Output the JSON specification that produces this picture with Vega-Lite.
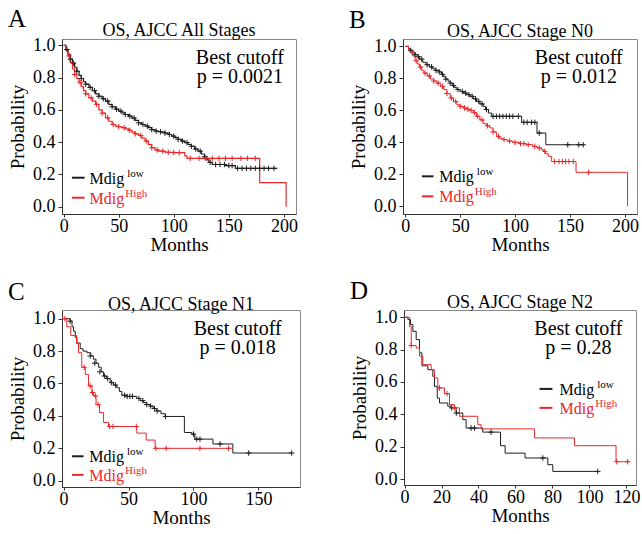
{
"$schema": "https://vega.github.io/schema/vega-lite/v6.json",
"padding": {"left": 8, "top": 6, "right": 2, "bottom": 2},
"config": {
  "font": "Liberation Serif",
  "view": {"stroke": "#8a8a8a", "strokeWidth": 1},
  "axis": {"grid": false, "labelFont": "Liberation Serif", "titleFont": "Liberation Serif", "labelFontSize": 18, "titleFontSize": 19, "titleFontWeight": "normal", "labelColor": "#000", "titleColor": "#000", "domainColor": "#333", "tickColor": "#333", "labelOverlap": false},
  "axisX": {"tickSize": 3, "labelPadding": 0, "titlePadding": 0, "labelFlush": false},
  "axisY": {"tickSize": 4, "labelPadding": 3, "titlePadding": 5, "format": ".1f", "values": [0, 0.2, 0.4, 0.6, 0.8, 1]},
  "title": {"font": "Liberation Serif", "fontSize": 18, "fontWeight": "normal", "color": "#000", "offset": -4}
},
"datasets": {
  "one": [{"k": 1}],
  "km": [
    {"p":"A","g":"low","t":0,"s":1.0},{"p":"A","g":"low","t":2,"s":0.975},{"p":"A","g":"low","t":4,"s":0.945},{"p":"A","g":"low","t":6,"s":0.915},{"p":"A","g":"low","t":8,"s":0.89},{"p":"A","g":"low","t":10,"s":0.865},{"p":"A","g":"low","t":12,"s":0.84},{"p":"A","g":"low","t":14,"s":0.815},{"p":"A","g":"low","t":16,"s":0.795},{"p":"A","g":"low","t":18,"s":0.775},{"p":"A","g":"low","t":20,"s":0.76},{"p":"A","g":"low","t":23,"s":0.74},{"p":"A","g":"low","t":26,"s":0.72},{"p":"A","g":"low","t":29,"s":0.70},{"p":"A","g":"low","t":32,"s":0.685},{"p":"A","g":"low","t":35,"s":0.67},{"p":"A","g":"low","t":38,"s":0.655},{"p":"A","g":"low","t":41,"s":0.635},{"p":"A","g":"low","t":44,"s":0.62},{"p":"A","g":"low","t":47,"s":0.605},{"p":"A","g":"low","t":50,"s":0.593},{"p":"A","g":"low","t":53,"s":0.582},{"p":"A","g":"low","t":56,"s":0.572},{"p":"A","g":"low","t":59,"s":0.562},{"p":"A","g":"low","t":62,"s":0.55},{"p":"A","g":"low","t":65,"s":0.535},{"p":"A","g":"low","t":68,"s":0.52},{"p":"A","g":"low","t":71,"s":0.51},{"p":"A","g":"low","t":74,"s":0.50},{"p":"A","g":"low","t":77,"s":0.49},{"p":"A","g":"low","t":80,"s":0.478},{"p":"A","g":"low","t":83,"s":0.469},{"p":"A","g":"low","t":86,"s":0.465},{"p":"A","g":"low","t":89,"s":0.463},{"p":"A","g":"low","t":92,"s":0.457},{"p":"A","g":"low","t":95,"s":0.448},{"p":"A","g":"low","t":98,"s":0.438},{"p":"A","g":"low","t":101,"s":0.428},{"p":"A","g":"low","t":104,"s":0.418},{"p":"A","g":"low","t":107,"s":0.407},{"p":"A","g":"low","t":110,"s":0.398},{"p":"A","g":"low","t":113,"s":0.386},{"p":"A","g":"low","t":116,"s":0.375},{"p":"A","g":"low","t":119,"s":0.358},{"p":"A","g":"low","t":122,"s":0.345},{"p":"A","g":"low","t":125,"s":0.327},{"p":"A","g":"low","t":128,"s":0.31},{"p":"A","g":"low","t":130,"s":0.29},{"p":"A","g":"low","t":132,"s":0.275},{"p":"A","g":"low","t":135,"s":0.262},{"p":"A","g":"low","t":147,"s":0.255},{"p":"A","g":"low","t":156,"s":0.238},{"p":"A","g":"low","t":194,"s":0.238},
    {"p":"A","g":"high","t":0,"s":1.0},{"p":"A","g":"high","t":2,"s":0.97},{"p":"A","g":"high","t":4,"s":0.935},{"p":"A","g":"high","t":6,"s":0.895},{"p":"A","g":"high","t":8,"s":0.855},{"p":"A","g":"high","t":10,"s":0.82},{"p":"A","g":"high","t":12,"s":0.795},{"p":"A","g":"high","t":14,"s":0.77},{"p":"A","g":"high","t":16,"s":0.745},{"p":"A","g":"high","t":18,"s":0.72},{"p":"A","g":"high","t":20,"s":0.70},{"p":"A","g":"high","t":23,"s":0.675},{"p":"A","g":"high","t":26,"s":0.655},{"p":"A","g":"high","t":29,"s":0.635},{"p":"A","g":"high","t":32,"s":0.60},{"p":"A","g":"high","t":35,"s":0.58},{"p":"A","g":"high","t":38,"s":0.552},{"p":"A","g":"high","t":41,"s":0.53},{"p":"A","g":"high","t":44,"s":0.51},{"p":"A","g":"high","t":47,"s":0.50},{"p":"A","g":"high","t":50,"s":0.496},{"p":"A","g":"high","t":53,"s":0.49},{"p":"A","g":"high","t":56,"s":0.483},{"p":"A","g":"high","t":59,"s":0.474},{"p":"A","g":"high","t":62,"s":0.463},{"p":"A","g":"high","t":65,"s":0.452},{"p":"A","g":"high","t":68,"s":0.442},{"p":"A","g":"high","t":71,"s":0.425},{"p":"A","g":"high","t":74,"s":0.407},{"p":"A","g":"high","t":77,"s":0.385},{"p":"A","g":"high","t":80,"s":0.366},{"p":"A","g":"high","t":83,"s":0.352},{"p":"A","g":"high","t":86,"s":0.345},{"p":"A","g":"high","t":92,"s":0.338},{"p":"A","g":"high","t":100,"s":0.335},{"p":"A","g":"high","t":110,"s":0.315},{"p":"A","g":"high","t":112,"s":0.30},{"p":"A","g":"high","t":178,"s":0.149},{"p":"A","g":"high","t":202,"s":0.0},
    {"p":"B","g":"low","t":0,"s":1.0},{"p":"B","g":"low","t":3,"s":0.985},{"p":"B","g":"low","t":5,"s":0.975},{"p":"B","g":"low","t":7,"s":0.96},{"p":"B","g":"low","t":9,"s":0.948},{"p":"B","g":"low","t":11,"s":0.935},{"p":"B","g":"low","t":13,"s":0.92},{"p":"B","g":"low","t":16,"s":0.90},{"p":"B","g":"low","t":19,"s":0.885},{"p":"B","g":"low","t":22,"s":0.872},{"p":"B","g":"low","t":25,"s":0.86},{"p":"B","g":"low","t":28,"s":0.85},{"p":"B","g":"low","t":31,"s":0.84},{"p":"B","g":"low","t":33,"s":0.825},{"p":"B","g":"low","t":35,"s":0.81},{"p":"B","g":"low","t":37,"s":0.795},{"p":"B","g":"low","t":39,"s":0.782},{"p":"B","g":"low","t":41,"s":0.77},{"p":"B","g":"low","t":43,"s":0.755},{"p":"B","g":"low","t":45,"s":0.742},{"p":"B","g":"low","t":47,"s":0.73},{"p":"B","g":"low","t":50,"s":0.718},{"p":"B","g":"low","t":53,"s":0.708},{"p":"B","g":"low","t":56,"s":0.698},{"p":"B","g":"low","t":59,"s":0.688},{"p":"B","g":"low","t":62,"s":0.672},{"p":"B","g":"low","t":65,"s":0.656},{"p":"B","g":"low","t":68,"s":0.64},{"p":"B","g":"low","t":71,"s":0.625},{"p":"B","g":"low","t":73,"s":0.605},{"p":"B","g":"low","t":75.8,"s":0.583},{"p":"B","g":"low","t":78.8,"s":0.5625},{"p":"B","g":"low","t":106,"s":0.525},{"p":"B","g":"low","t":120,"s":0.458},{"p":"B","g":"low","t":128,"s":0.385},{"p":"B","g":"low","t":162,"s":0.385},
    {"p":"B","g":"high","t":0,"s":1.0},{"p":"B","g":"high","t":3,"s":0.98},{"p":"B","g":"high","t":5,"s":0.965},{"p":"B","g":"high","t":7,"s":0.94},{"p":"B","g":"high","t":9,"s":0.91},{"p":"B","g":"high","t":11,"s":0.89},{"p":"B","g":"high","t":13,"s":0.87},{"p":"B","g":"high","t":15,"s":0.85},{"p":"B","g":"high","t":17,"s":0.833},{"p":"B","g":"high","t":20,"s":0.815},{"p":"B","g":"high","t":23,"s":0.796},{"p":"B","g":"high","t":26,"s":0.783},{"p":"B","g":"high","t":29,"s":0.77},{"p":"B","g":"high","t":32,"s":0.75},{"p":"B","g":"high","t":35,"s":0.73},{"p":"B","g":"high","t":38,"s":0.705},{"p":"B","g":"high","t":41,"s":0.677},{"p":"B","g":"high","t":44,"s":0.655},{"p":"B","g":"high","t":47,"s":0.635},{"p":"B","g":"high","t":50,"s":0.625},{"p":"B","g":"high","t":53,"s":0.615},{"p":"B","g":"high","t":56,"s":0.607},{"p":"B","g":"high","t":59,"s":0.60},{"p":"B","g":"high","t":62,"s":0.585},{"p":"B","g":"high","t":65,"s":0.5625},{"p":"B","g":"high","t":68,"s":0.54},{"p":"B","g":"high","t":71,"s":0.517},{"p":"B","g":"high","t":74,"s":0.503},{"p":"B","g":"high","t":77,"s":0.49},{"p":"B","g":"high","t":80,"s":0.465},{"p":"B","g":"high","t":83,"s":0.4375},{"p":"B","g":"high","t":86,"s":0.425},{"p":"B","g":"high","t":89,"s":0.417},{"p":"B","g":"high","t":93,"s":0.408},{"p":"B","g":"high","t":98,"s":0.40},{"p":"B","g":"high","t":104,"s":0.392},{"p":"B","g":"high","t":110,"s":0.385},{"p":"B","g":"high","t":116,"s":0.375},{"p":"B","g":"high","t":120,"s":0.365},{"p":"B","g":"high","t":124,"s":0.354},{"p":"B","g":"high","t":126,"s":0.344},{"p":"B","g":"high","t":128,"s":0.328},{"p":"B","g":"high","t":130.3,"s":0.3125},{"p":"B","g":"high","t":133.3,"s":0.28},{"p":"B","g":"high","t":155.5,"s":0.2125},{"p":"B","g":"high","t":202.4,"s":0.0},
    {"p":"C","g":"low","t":0,"s":1.0},{"p":"C","g":"low","t":5.1,"s":0.985},{"p":"C","g":"low","t":6.5,"s":0.95},{"p":"C","g":"low","t":7.7,"s":0.923},{"p":"C","g":"low","t":9,"s":0.885},{"p":"C","g":"low","t":10.3,"s":0.85},{"p":"C","g":"low","t":12.8,"s":0.815},{"p":"C","g":"low","t":15,"s":0.80},{"p":"C","g":"low","t":18,"s":0.79},{"p":"C","g":"low","t":21,"s":0.77},{"p":"C","g":"low","t":23,"s":0.75},{"p":"C","g":"low","t":25,"s":0.725},{"p":"C","g":"low","t":27,"s":0.70},{"p":"C","g":"low","t":29,"s":0.672},{"p":"C","g":"low","t":30.8,"s":0.646},{"p":"C","g":"low","t":33,"s":0.63},{"p":"C","g":"low","t":35.9,"s":0.605},{"p":"C","g":"low","t":38.5,"s":0.59},{"p":"C","g":"low","t":41,"s":0.574},{"p":"C","g":"low","t":43,"s":0.55},{"p":"C","g":"low","t":44.9,"s":0.527},{"p":"C","g":"low","t":48.7,"s":0.52},{"p":"C","g":"low","t":56.4,"s":0.507},{"p":"C","g":"low","t":59,"s":0.494},{"p":"C","g":"low","t":61.5,"s":0.482},{"p":"C","g":"low","t":64,"s":0.47},{"p":"C","g":"low","t":66.7,"s":0.46},{"p":"C","g":"low","t":69,"s":0.445},{"p":"C","g":"low","t":71.8,"s":0.43},{"p":"C","g":"low","t":75,"s":0.413},{"p":"C","g":"low","t":78.2,"s":0.396},{"p":"C","g":"low","t":93,"s":0.297},{"p":"C","g":"low","t":98.7,"s":0.287},{"p":"C","g":"low","t":101,"s":0.256},{"p":"C","g":"low","t":115,"s":0.226},{"p":"C","g":"low","t":130.3,"s":0.17},{"p":"C","g":"low","t":175.6,"s":0.17},
    {"p":"C","g":"high","t":0,"s":1.0},{"p":"C","g":"high","t":2.5,"s":0.95},{"p":"C","g":"high","t":5.5,"s":0.897},{"p":"C","g":"high","t":10,"s":0.846},{"p":"C","g":"high","t":11.5,"s":0.79},{"p":"C","g":"high","t":14,"s":0.70},{"p":"C","g":"high","t":16.7,"s":0.656},{"p":"C","g":"high","t":19.2,"s":0.585},{"p":"C","g":"high","t":21.8,"s":0.544},{"p":"C","g":"high","t":23,"s":0.523},{"p":"C","g":"high","t":25,"s":0.47},{"p":"C","g":"high","t":27.7,"s":0.42},{"p":"C","g":"high","t":30.8,"s":0.359},{"p":"C","g":"high","t":34.6,"s":0.334},{"p":"C","g":"high","t":56.4,"s":0.293},{"p":"C","g":"high","t":63.6,"s":0.25},{"p":"C","g":"high","t":70.5,"s":0.199},{"p":"C","g":"high","t":129.5,"s":0.199},
    {"p":"D","g":"low","t":0,"s":1.0},{"p":"D","g":"low","t":1.8,"s":0.986},{"p":"D","g":"low","t":3.2,"s":0.955},{"p":"D","g":"low","t":4.5,"s":0.913},{"p":"D","g":"low","t":6.3,"s":0.862},{"p":"D","g":"low","t":8.1,"s":0.78},{"p":"D","g":"low","t":9.4,"s":0.70},{"p":"D","g":"low","t":12.6,"s":0.676},{"p":"D","g":"low","t":15.3,"s":0.635},{"p":"D","g":"low","t":16.2,"s":0.573},{"p":"D","g":"low","t":17.7,"s":0.50},{"p":"D","g":"low","t":18.9,"s":0.47},{"p":"D","g":"low","t":23.4,"s":0.45},{"p":"D","g":"low","t":25.2,"s":0.44},{"p":"D","g":"low","t":27.9,"s":0.408},{"p":"D","g":"low","t":31.5,"s":0.367},{"p":"D","g":"low","t":33.3,"s":0.315},{"p":"D","g":"low","t":42.3,"s":0.29},{"p":"D","g":"low","t":51.9,"s":0.206},{"p":"D","g":"low","t":54.4,"s":0.16},{"p":"D","g":"low","t":65.2,"s":0.13},{"p":"D","g":"low","t":77.5,"s":0.0887},{"p":"D","g":"low","t":80.2,"s":0.047},{"p":"D","g":"low","t":104.5,"s":0.047},
    {"p":"D","g":"high","t":0,"s":1.0},{"p":"D","g":"high","t":2.7,"s":0.944},{"p":"D","g":"high","t":3.6,"s":0.825},{"p":"D","g":"high","t":6.3,"s":0.81},{"p":"D","g":"high","t":8.1,"s":0.76},{"p":"D","g":"high","t":9.9,"s":0.707},{"p":"D","g":"high","t":14.4,"s":0.676},{"p":"D","g":"high","t":16.2,"s":0.625},{"p":"D","g":"high","t":18,"s":0.563},{"p":"D","g":"high","t":21.6,"s":0.528},{"p":"D","g":"high","t":24.3,"s":0.46},{"p":"D","g":"high","t":27,"s":0.44},{"p":"D","g":"high","t":29.7,"s":0.388},{"p":"D","g":"high","t":39.6,"s":0.336},{"p":"D","g":"high","t":41.4,"s":0.31},{"p":"D","g":"high","t":70.3,"s":0.254},{"p":"D","g":"high","t":91.9,"s":0.206},{"p":"D","g":"high","t":114.4,"s":0.107},{"p":"D","g":"high","t":121.6,"s":0.107}
  ],
  "cens": [
    {"p":"A","g":"low","t":3,"s":0.975},{"p":"A","g":"low","t":6,"s":0.915},{"p":"A","g":"low","t":9,"s":0.89},{"p":"A","g":"low","t":12,"s":0.84},{"p":"A","g":"low","t":16,"s":0.795},{"p":"A","g":"low","t":20,"s":0.76},{"p":"A","g":"low","t":24,"s":0.74},{"p":"A","g":"low","t":28,"s":0.72},{"p":"A","g":"low","t":32,"s":0.685},{"p":"A","g":"low","t":36,"s":0.67},{"p":"A","g":"low","t":40,"s":0.655},{"p":"A","g":"low","t":44,"s":0.62},{"p":"A","g":"low","t":48,"s":0.605},{"p":"A","g":"low","t":52,"s":0.593},{"p":"A","g":"low","t":56,"s":0.572},{"p":"A","g":"low","t":60,"s":0.562},{"p":"A","g":"low","t":64,"s":0.55},{"p":"A","g":"low","t":68,"s":0.52},{"p":"A","g":"low","t":72,"s":0.51},{"p":"A","g":"low","t":76,"s":0.50},{"p":"A","g":"low","t":80,"s":0.478},{"p":"A","g":"low","t":84,"s":0.469},{"p":"A","g":"low","t":88,"s":0.465},{"p":"A","g":"low","t":92,"s":0.457},{"p":"A","g":"low","t":96,"s":0.448},{"p":"A","g":"low","t":100,"s":0.438},{"p":"A","g":"low","t":104,"s":0.418},{"p":"A","g":"low","t":108,"s":0.407},{"p":"A","g":"low","t":112,"s":0.398},{"p":"A","g":"low","t":116,"s":0.375},{"p":"A","g":"low","t":120,"s":0.358},{"p":"A","g":"low","t":124,"s":0.345},{"p":"A","g":"low","t":128,"s":0.31},{"p":"A","g":"low","t":133,"s":0.275},{"p":"A","g":"low","t":138,"s":0.262},{"p":"A","g":"low","t":142,"s":0.262},{"p":"A","g":"low","t":146,"s":0.262},{"p":"A","g":"low","t":150,"s":0.255},{"p":"A","g":"low","t":153,"s":0.255},{"p":"A","g":"low","t":158,"s":0.238},{"p":"A","g":"low","t":162,"s":0.238},{"p":"A","g":"low","t":166,"s":0.238},{"p":"A","g":"low","t":170,"s":0.238},{"p":"A","g":"low","t":174,"s":0.238},{"p":"A","g":"low","t":178,"s":0.238},{"p":"A","g":"low","t":182,"s":0.238},{"p":"A","g":"low","t":186,"s":0.238},{"p":"A","g":"low","t":191,"s":0.238},
    {"p":"A","g":"high","t":5,"s":0.935},{"p":"A","g":"high","t":10,"s":0.82},{"p":"A","g":"high","t":15,"s":0.77},{"p":"A","g":"high","t":20,"s":0.70},{"p":"A","g":"high","t":25,"s":0.675},{"p":"A","g":"high","t":30,"s":0.635},{"p":"A","g":"high","t":35,"s":0.58},{"p":"A","g":"high","t":40,"s":0.552},{"p":"A","g":"high","t":45,"s":0.51},{"p":"A","g":"high","t":50,"s":0.496},{"p":"A","g":"high","t":55,"s":0.49},{"p":"A","g":"high","t":60,"s":0.474},{"p":"A","g":"high","t":65,"s":0.452},{"p":"A","g":"high","t":70,"s":0.442},{"p":"A","g":"high","t":75,"s":0.407},{"p":"A","g":"high","t":80,"s":0.366},{"p":"A","g":"high","t":85,"s":0.352},{"p":"A","g":"high","t":90,"s":0.345},{"p":"A","g":"high","t":95,"s":0.338},{"p":"A","g":"high","t":100,"s":0.335},{"p":"A","g":"high","t":105,"s":0.335},{"p":"A","g":"high","t":115,"s":0.30},{"p":"A","g":"high","t":123,"s":0.30},{"p":"A","g":"high","t":129,"s":0.30},{"p":"A","g":"high","t":135,"s":0.30},{"p":"A","g":"high","t":141,"s":0.30},{"p":"A","g":"high","t":147,"s":0.30},{"p":"A","g":"high","t":153,"s":0.30},{"p":"A","g":"high","t":161,"s":0.30},{"p":"A","g":"high","t":167,"s":0.30},{"p":"A","g":"high","t":174,"s":0.30},
    {"p":"B","g":"low","t":5,"s":0.975},{"p":"B","g":"low","t":9,"s":0.948},{"p":"B","g":"low","t":12,"s":0.935},{"p":"B","g":"low","t":15,"s":0.92},{"p":"B","g":"low","t":20,"s":0.885},{"p":"B","g":"low","t":24,"s":0.872},{"p":"B","g":"low","t":28,"s":0.85},{"p":"B","g":"low","t":31,"s":0.84},{"p":"B","g":"low","t":34,"s":0.825},{"p":"B","g":"low","t":37,"s":0.795},{"p":"B","g":"low","t":41,"s":0.77},{"p":"B","g":"low","t":44,"s":0.755},{"p":"B","g":"low","t":48,"s":0.73},{"p":"B","g":"low","t":52,"s":0.718},{"p":"B","g":"low","t":55,"s":0.708},{"p":"B","g":"low","t":58,"s":0.698},{"p":"B","g":"low","t":61,"s":0.688},{"p":"B","g":"low","t":64,"s":0.672},{"p":"B","g":"low","t":67,"s":0.656},{"p":"B","g":"low","t":70,"s":0.64},{"p":"B","g":"low","t":74,"s":0.605},{"p":"B","g":"low","t":80,"s":0.5625},{"p":"B","g":"low","t":83,"s":0.5625},{"p":"B","g":"low","t":86,"s":0.5625},{"p":"B","g":"low","t":89,"s":0.5625},{"p":"B","g":"low","t":92,"s":0.5625},{"p":"B","g":"low","t":95,"s":0.5625},{"p":"B","g":"low","t":98,"s":0.5625},{"p":"B","g":"low","t":103,"s":0.5625},{"p":"B","g":"low","t":108,"s":0.525},{"p":"B","g":"low","t":111,"s":0.525},{"p":"B","g":"low","t":115,"s":0.525},{"p":"B","g":"low","t":118,"s":0.525},{"p":"B","g":"low","t":122,"s":0.458},{"p":"B","g":"low","t":148,"s":0.385},{"p":"B","g":"low","t":158,"s":0.385},{"p":"B","g":"low","t":162,"s":0.385},
    {"p":"B","g":"high","t":6,"s":0.965},{"p":"B","g":"high","t":10,"s":0.91},{"p":"B","g":"high","t":14,"s":0.87},{"p":"B","g":"high","t":18,"s":0.833},{"p":"B","g":"high","t":22,"s":0.815},{"p":"B","g":"high","t":26,"s":0.783},{"p":"B","g":"high","t":30,"s":0.77},{"p":"B","g":"high","t":34,"s":0.75},{"p":"B","g":"high","t":38,"s":0.705},{"p":"B","g":"high","t":42,"s":0.677},{"p":"B","g":"high","t":46,"s":0.655},{"p":"B","g":"high","t":50,"s":0.625},{"p":"B","g":"high","t":54,"s":0.615},{"p":"B","g":"high","t":57,"s":0.607},{"p":"B","g":"high","t":60,"s":0.60},{"p":"B","g":"high","t":63,"s":0.585},{"p":"B","g":"high","t":66,"s":0.5625},{"p":"B","g":"high","t":70,"s":0.54},{"p":"B","g":"high","t":75,"s":0.503},{"p":"B","g":"high","t":80,"s":0.465},{"p":"B","g":"high","t":85,"s":0.4375},{"p":"B","g":"high","t":90,"s":0.417},{"p":"B","g":"high","t":95,"s":0.408},{"p":"B","g":"high","t":100,"s":0.40},{"p":"B","g":"high","t":105,"s":0.392},{"p":"B","g":"high","t":108,"s":0.392},{"p":"B","g":"high","t":112,"s":0.385},{"p":"B","g":"high","t":118,"s":0.375},{"p":"B","g":"high","t":122,"s":0.365},{"p":"B","g":"high","t":127,"s":0.344},{"p":"B","g":"high","t":136,"s":0.28},{"p":"B","g":"high","t":140,"s":0.28},{"p":"B","g":"high","t":143,"s":0.28},{"p":"B","g":"high","t":146,"s":0.28},{"p":"B","g":"high","t":149,"s":0.28},{"p":"B","g":"high","t":153,"s":0.28},{"p":"B","g":"high","t":167,"s":0.2125},
    {"p":"C","g":"low","t":5.1,"s":0.985},{"p":"C","g":"low","t":20.5,"s":0.77},{"p":"C","g":"low","t":24,"s":0.725},{"p":"C","g":"low","t":28,"s":0.672},{"p":"C","g":"low","t":31.5,"s":0.646},{"p":"C","g":"low","t":34,"s":0.63},{"p":"C","g":"low","t":37,"s":0.605},{"p":"C","g":"low","t":40,"s":0.59},{"p":"C","g":"low","t":47,"s":0.527},{"p":"C","g":"low","t":49,"s":0.52},{"p":"C","g":"low","t":51,"s":0.52},{"p":"C","g":"low","t":53,"s":0.52},{"p":"C","g":"low","t":58,"s":0.507},{"p":"C","g":"low","t":61,"s":0.494},{"p":"C","g":"low","t":64,"s":0.47},{"p":"C","g":"low","t":67,"s":0.46},{"p":"C","g":"low","t":70,"s":0.445},{"p":"C","g":"low","t":72,"s":0.43},{"p":"C","g":"low","t":78.5,"s":0.396},{"p":"C","g":"low","t":100,"s":0.287},{"p":"C","g":"low","t":102.5,"s":0.256},{"p":"C","g":"low","t":105,"s":0.256},{"p":"C","g":"low","t":120.5,"s":0.226},{"p":"C","g":"low","t":142.5,"s":0.17},{"p":"C","g":"low","t":175.6,"s":0.17},
    {"p":"C","g":"high","t":1,"s":1.0},{"p":"C","g":"high","t":15.9,"s":0.70},{"p":"C","g":"high","t":20.5,"s":0.585},{"p":"C","g":"high","t":22.3,"s":0.544},{"p":"C","g":"high","t":24.5,"s":0.523},{"p":"C","g":"high","t":26.5,"s":0.47},{"p":"C","g":"high","t":35.5,"s":0.334},{"p":"C","g":"high","t":38,"s":0.334},{"p":"C","g":"high","t":56,"s":0.334},{"p":"C","g":"high","t":71,"s":0.199},{"p":"C","g":"high","t":79,"s":0.199},{"p":"C","g":"high","t":105,"s":0.199},{"p":"C","g":"high","t":127,"s":0.199},
    {"p":"D","g":"low","t":25.5,"s":0.44},{"p":"D","g":"low","t":28,"s":0.408},{"p":"D","g":"low","t":36,"s":0.315},{"p":"D","g":"low","t":37.8,"s":0.315},{"p":"D","g":"low","t":46.8,"s":0.29},{"p":"D","g":"low","t":74.8,"s":0.13},{"p":"D","g":"low","t":104.5,"s":0.047},
    {"p":"D","g":"high","t":3.6,"s":0.825},{"p":"D","g":"high","t":18.9,"s":0.563},{"p":"D","g":"high","t":23,"s":0.528},{"p":"D","g":"high","t":27,"s":0.44},{"p":"D","g":"high","t":114.8,"s":0.107},{"p":"D","g":"high","t":120.7,"s":0.107}
  ]
},
"spacing": 23,
"vconcat": [
 {"hconcat": [
  {"title": {"text": "A", "anchor": "start", "frame": "bounds", "fontSize": 25, "offset": -10},
   "vconcat": [{
    "width": 234, "height": 175,
    "title": {"text": "OS, AJCC All Stages"},
    "layer": [
     {"encoding": {
       "x": {"field": "t", "type": "quantitative", "scale": {"domain": [-1.5, 211], "nice": false, "zero": false}, "axis": {"title": "Months", "values": [0, 50, 100, 150, 200]}},
       "y": {"field": "s", "type": "quantitative", "scale": {"domain": [-0.045, 1.04], "nice": false, "zero": false}, "axis": {"title": "Probability"}},
       "color": {"field": "g", "type": "nominal", "scale": {"domain": ["low", "high"], "range": ["#1e1e1e", "#e8282a"]}, "legend": null}
      },
      "layer": [
       {"data": {"name": "km"}, "transform": [{"filter": "datum.p === 'A'"}], "mark": {"type": "line", "interpolate": "step-after", "strokeWidth": 1.2}},
       {"data": {"name": "cens"}, "transform": [{"filter": "datum.p === 'A'"}], "mark": {"type": "point", "shape": "M0,-1V1M-1,0H1", "size": 30, "strokeWidth": 1, "filled": false, "opacity": 1}}
      ]},
     {"data": {"name": "one"},
      "layer": [
       {"mark": {"type": "rule", "color": "#1e1e1e", "strokeWidth": 2}, "encoding": {"x": {"datum": 7.5}, "x2": {"datum": 19}, "y": {"datum": 0.18}}},
       {"mark": {"type": "rule", "color": "#e8282a", "strokeWidth": 2}, "encoding": {"x": {"datum": 7.5}, "x2": {"datum": 19}, "y": {"datum": 0.056}}},
       {"mark": {"type": "text", "text": "Mdig", "align": "right", "baseline": "middle", "fontSize": 16, "dy": 1, "color": "#000"}, "encoding": {"x": {"datum": 55}, "y": {"datum": 0.18}}},
       {"mark": {"type": "text", "text": "low", "align": "left", "baseline": "middle", "fontSize": 11, "dx": 3, "dy": -4, "color": "#000"}, "encoding": {"x": {"datum": 55}, "y": {"datum": 0.18}}},
       {"mark": {"type": "text", "text": "Mdig", "align": "right", "baseline": "middle", "fontSize": 16, "dy": 1, "color": "#e8282a"}, "encoding": {"x": {"datum": 55}, "y": {"datum": 0.056}}},
       {"mark": {"type": "text", "text": "High", "align": "left", "baseline": "middle", "fontSize": 11, "dx": 1, "dy": -4, "color": "#e8282a"}, "encoding": {"x": {"datum": 55}, "y": {"datum": 0.056}}},
       {"mark": {"type": "text", "text": ["Best cutoff", "p = 0.0021"], "align": "center", "baseline": "alphabetic", "fontSize": 20, "lineHeight": 19, "color": "#000"}, "encoding": {"x": {"datum": 160}, "y": {"datum": 0.888}}}
      ]}
    ]
   }]
  },
  {"title": {"text": "B", "anchor": "start", "frame": "bounds", "fontSize": 25, "offset": -10},
   "vconcat": [{
    "width": 234, "height": 175,
    "title": {"text": "OS, AJCC Stage N0"},
    "layer": [
     {"encoding": {
       "x": {"field": "t", "type": "quantitative", "scale": {"domain": [-2, 211], "nice": false, "zero": false}, "axis": {"title": "Months", "values": [0, 50, 100, 150, 200]}},
       "y": {"field": "s", "type": "quantitative", "scale": {"domain": [-0.048, 1.046], "nice": false, "zero": false}, "axis": {"title": "Probability"}},
       "color": {"field": "g", "type": "nominal", "scale": {"domain": ["low", "high"], "range": ["#1e1e1e", "#e8282a"]}, "legend": null}
      },
      "layer": [
       {"data": {"name": "km"}, "transform": [{"filter": "datum.p === 'B'"}], "mark": {"type": "line", "interpolate": "step-after", "strokeWidth": 1}},
       {"data": {"name": "cens"}, "transform": [{"filter": "datum.p === 'B'"}], "mark": {"type": "point", "shape": "M0,-1V1M-1,0H1", "size": 30, "strokeWidth": 1, "filled": false, "opacity": 1}}
      ]},
     {"data": {"name": "one"},
      "layer": [
       {"mark": {"type": "rule", "color": "#1e1e1e", "strokeWidth": 2}, "encoding": {"x": {"datum": 15.2}, "x2": {"datum": 25.7}, "y": {"datum": 0.1875}}},
       {"mark": {"type": "rule", "color": "#e8282a", "strokeWidth": 2}, "encoding": {"x": {"datum": 15.2}, "x2": {"datum": 25.7}, "y": {"datum": 0.0625}}},
       {"mark": {"type": "text", "text": "Mdig", "align": "right", "baseline": "middle", "fontSize": 16, "dy": 1, "color": "#000"}, "encoding": {"x": {"datum": 62.5}, "y": {"datum": 0.1875}}},
       {"mark": {"type": "text", "text": "low", "align": "left", "baseline": "middle", "fontSize": 11, "dx": 3, "dy": -4, "color": "#000"}, "encoding": {"x": {"datum": 62.5}, "y": {"datum": 0.1875}}},
       {"mark": {"type": "text", "text": "Mdig", "align": "right", "baseline": "middle", "fontSize": 16, "dy": 1, "color": "#e8282a"}, "encoding": {"x": {"datum": 62.5}, "y": {"datum": 0.0625}}},
       {"mark": {"type": "text", "text": "High", "align": "left", "baseline": "middle", "fontSize": 11, "dx": 1, "dy": -4, "color": "#e8282a"}, "encoding": {"x": {"datum": 62.5}, "y": {"datum": 0.0625}}},
       {"mark": {"type": "text", "text": ["Best cutoff", "p = 0.012"], "align": "center", "baseline": "alphabetic", "fontSize": 20, "lineHeight": 19, "color": "#000"}, "encoding": {"x": {"datum": 158}, "y": {"datum": 0.892}}}
      ]}
    ]
   }]
  }
 ], "spacing": 51},
 {"hconcat": [
  {"title": {"text": "C", "anchor": "start", "frame": "bounds", "fontSize": 25, "offset": -10},
   "vconcat": [{
    "width": 238, "height": 177,
    "title": {"text": "OS, AJCC Stage N1"},
    "layer": [
     {"encoding": {
       "x": {"field": "t", "type": "quantitative", "scale": {"domain": [-1.2, 182], "nice": false, "zero": false}, "axis": {"title": "Months", "values": [0, 50, 100, 150]}},
       "y": {"field": "s", "type": "quantitative", "scale": {"domain": [-0.04, 1.054], "nice": false, "zero": false}, "axis": {"title": "Probability"}},
       "color": {"field": "g", "type": "nominal", "scale": {"domain": ["low", "high"], "range": ["#1e1e1e", "#e8282a"]}, "legend": null}
      },
      "layer": [
       {"data": {"name": "km"}, "transform": [{"filter": "datum.p === 'C'"}], "mark": {"type": "line", "interpolate": "step-after", "strokeWidth": 1}},
       {"data": {"name": "cens"}, "transform": [{"filter": "datum.p === 'C'"}], "mark": {"type": "point", "shape": "M0,-1V1M-1,0H1", "size": 30, "strokeWidth": 1, "filled": false, "opacity": 1}}
      ]},
     {"data": {"name": "one"},
      "layer": [
       {"mark": {"type": "rule", "color": "#1e1e1e", "strokeWidth": 2}, "encoding": {"x": {"datum": 6.5}, "x2": {"datum": 15.4}, "y": {"datum": 0.15}}},
       {"mark": {"type": "rule", "color": "#e8282a", "strokeWidth": 2}, "encoding": {"x": {"datum": 6.5}, "x2": {"datum": 15.4}, "y": {"datum": 0.035}}},
       {"mark": {"type": "text", "text": "Mdig", "align": "right", "baseline": "middle", "fontSize": 16, "dy": 1, "color": "#000"}, "encoding": {"x": {"datum": 46.5}, "y": {"datum": 0.15}}},
       {"mark": {"type": "text", "text": "low", "align": "left", "baseline": "middle", "fontSize": 11, "dx": 3, "dy": -4, "color": "#000"}, "encoding": {"x": {"datum": 46.5}, "y": {"datum": 0.15}}},
       {"mark": {"type": "text", "text": "Mdig", "align": "right", "baseline": "middle", "fontSize": 16, "dy": 1, "color": "#e8282a"}, "encoding": {"x": {"datum": 46.5}, "y": {"datum": 0.035}}},
       {"mark": {"type": "text", "text": "High", "align": "left", "baseline": "middle", "fontSize": 11, "dx": 1, "dy": -4, "color": "#e8282a"}, "encoding": {"x": {"datum": 46.5}, "y": {"datum": 0.035}}},
       {"mark": {"type": "text", "text": ["Best cutoff", "p = 0.018"], "align": "center", "baseline": "alphabetic", "fontSize": 20, "lineHeight": 19, "color": "#000"}, "encoding": {"x": {"datum": 134}, "y": {"datum": 0.897}}}
      ]}
    ]
   }]
  },
  {"title": {"text": "D", "anchor": "start", "frame": "bounds", "fontSize": 25, "offset": -10},
   "vconcat": [{
    "width": 232, "height": 175,
    "title": {"text": "OS, AJCC Stage N2"},
    "layer": [
     {"encoding": {
       "x": {"field": "t", "type": "quantitative", "scale": {"domain": [-0.3, 125.2], "nice": false, "zero": false}, "axis": {"title": "Months", "values": [0, 20, 40, 60, 80, 100, 120], "labelOverlap": false}},
       "y": {"field": "s", "type": "quantitative", "scale": {"domain": [-0.037, 1.045], "nice": false, "zero": false}, "axis": {"title": "Probability"}},
       "color": {"field": "g", "type": "nominal", "scale": {"domain": ["low", "high"], "range": ["#1e1e1e", "#e8282a"]}, "legend": null}
      },
      "layer": [
       {"data": {"name": "km"}, "transform": [{"filter": "datum.p === 'D'"}], "mark": {"type": "line", "interpolate": "step-after", "strokeWidth": 1}},
       {"data": {"name": "cens"}, "transform": [{"filter": "datum.p === 'D'"}], "mark": {"type": "point", "shape": "M0,-1V1M-1,0H1", "size": 30, "strokeWidth": 1, "filled": false, "opacity": 1}}
      ]},
     {"data": {"name": "one"},
      "layer": [
       {"mark": {"type": "rule", "color": "#1e1e1e", "strokeWidth": 2}, "encoding": {"x": {"datum": 73, "axis": {"title": "Months", "values": [0, 20, 40, 60, 80, 100, 120], "labelOverlap": false}}, "x2": {"datum": 80}, "y": {"datum": 0.557}}},
       {"mark": {"type": "rule", "color": "#e8282a", "strokeWidth": 2}, "encoding": {"x": {"datum": 73, "axis": {"title": "Months", "values": [0, 20, 40, 60, 80, 100, 120], "labelOverlap": false}}, "x2": {"datum": 80}, "y": {"datum": 0.44}}},
       {"mark": {"type": "text", "text": "Mdig", "align": "right", "baseline": "middle", "fontSize": 16, "dy": 1, "color": "#000"}, "encoding": {"x": {"datum": 102.6, "axis": {"title": "Months", "values": [0, 20, 40, 60, 80, 100, 120], "labelOverlap": false}}, "y": {"datum": 0.557}}},
       {"mark": {"type": "text", "text": "low", "align": "left", "baseline": "middle", "fontSize": 11, "dx": 3, "dy": -4, "color": "#000"}, "encoding": {"x": {"datum": 102.6, "axis": {"title": "Months", "values": [0, 20, 40, 60, 80, 100, 120], "labelOverlap": false}}, "y": {"datum": 0.557}}},
       {"mark": {"type": "text", "text": "Mdig", "align": "right", "baseline": "middle", "fontSize": 16, "dy": 1, "color": "#e8282a"}, "encoding": {"x": {"datum": 102.6, "axis": {"title": "Months", "values": [0, 20, 40, 60, 80, 100, 120], "labelOverlap": false}}, "y": {"datum": 0.44}}},
       {"mark": {"type": "text", "text": "High", "align": "left", "baseline": "middle", "fontSize": 11, "dx": 1, "dy": -4, "color": "#e8282a"}, "encoding": {"x": {"datum": 102.6, "axis": {"title": "Months", "values": [0, 20, 40, 60, 80, 100, 120], "labelOverlap": false}}, "y": {"datum": 0.44}}},
       {"mark": {"type": "text", "text": ["Best cutoff", "p = 0.28"], "align": "center", "baseline": "alphabetic", "fontSize": 20, "lineHeight": 19, "color": "#000"}, "encoding": {"x": {"datum": 94, "axis": {"title": "Months", "values": [0, 20, 40, 60, 80, 100, 120], "labelOverlap": false}}, "y": {"datum": 0.893}}}
      ]}
    ]
   }]
  }
 ], "spacing": 49}
]
}
